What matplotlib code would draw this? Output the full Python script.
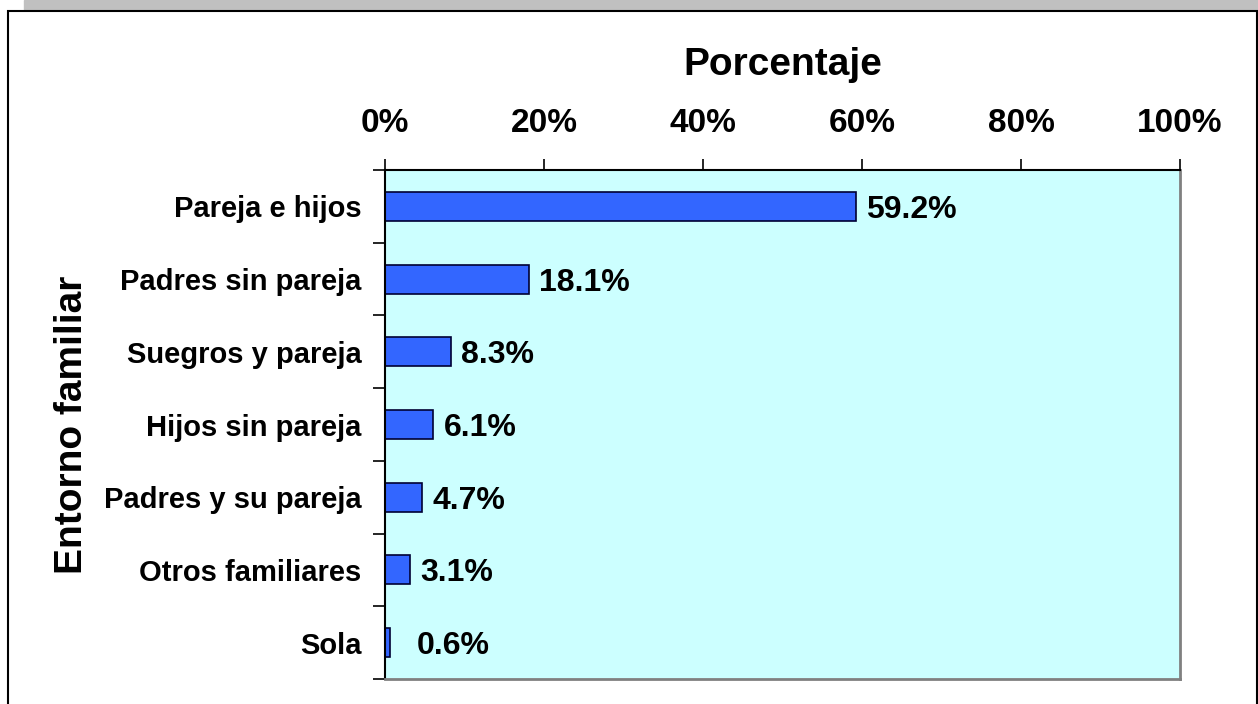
import matplotlib.pyplot as plt
from matplotlib.patches import Rectangle
from matplotlib.ticker import FuncFormatter

plt.rcParams['font.family'] = ['Liberation Sans', 'DejaVu Sans']
plt.rcParams['font.weight'] = 'bold'

categories = ['Pareja e hijos', 'Padres sin pareja', 'Suegros y pareja', 'Hijos sin pareja',
              'Padres y su pareja', 'Otros familiares', 'Sola']
values = [59.2, 18.1, 8.3, 6.1, 4.7, 3.1, 0.6]
labels = ['59.2%', '18.1%', '8.3%', '6.1%', '4.7%', '3.1%', '0.6%']
xticks = [0, 20, 40, 60, 80, 100]

fig = plt.figure(figsize=(12.58, 7.04), dpi=100)

# grey band on top and the framed panel
fig.patches.append(Rectangle((24 / 1258, 694 / 704), 1 - 24 / 1258, 10 / 704,
                             transform=fig.transFigure, color='#c0c0c0', zorder=0))
fig.patches.append(Rectangle((7.5 / 1258, -10 / 704), 1 - 9 / 1258, 703 / 704,
                             transform=fig.transFigure, fill=False, edgecolor='black',
                             linewidth=1.5, zorder=1))

ax = fig.add_axes([385 / 1258, 25 / 704, 795 / 1258, 509 / 704])
ax.set_facecolor('#ccffff')

pos = list(range(len(categories)))
ax.barh(pos, values, height=0.4, color='#3366ff', edgecolor='#000033', linewidth=1.2)
for p, v, t in zip(pos, values, labels):
    ax.text(max(v + 1.3, 4.0), p, t, va='center_baseline', ha='left',
            fontsize=23, fontweight='bold')

ax.set_xlim(0, 100)
ax.set_ylim(len(categories) - 0.5, -0.5)
ax.set_xticks(xticks)
ax.xaxis.set_major_formatter(FuncFormatter(lambda x, _: f'{x:.0f}%'))
ax.xaxis.tick_top()
ax.xaxis.set_label_position('top')
ax.set_yticks(pos)
ax.set_yticklabels(categories, fontsize=21, fontweight='bold')
ax.set_yticks([p + 0.5 for p in [-1] + pos], minor=True)
ax.tick_params(axis='y', which='major', length=0, pad=17)
ax.tick_params(axis='y', which='minor', length=9, width=1.2, direction='out')
ax.tick_params(axis='x', length=8, width=1.2, direction='out', labelsize=24, pad=14)
for lab in ax.get_xticklabels():
    lab.set_fontweight('bold')

ax.set_xlabel('Porcentaje', fontsize=28, fontweight='bold', labelpad=24)
ax.set_ylabel('Entorno familiar', fontsize=28, fontweight='bold', labelpad=10)

ax.spines['left'].set_linewidth(1.5)
ax.spines['top'].set_linewidth(1.5)
ax.spines['right'].set_color('#808080')
ax.spines['bottom'].set_color('#808080')
ax.spines['right'].set_linewidth(2)
ax.spines['bottom'].set_linewidth(2)

fig.savefig('out.png', dpi=100)
